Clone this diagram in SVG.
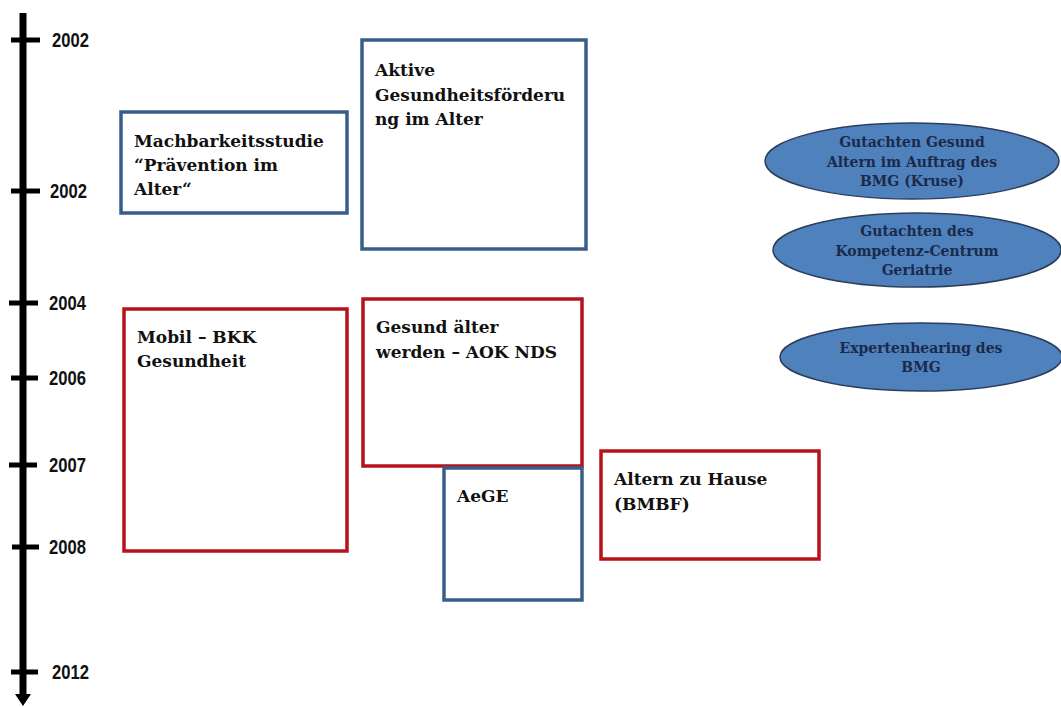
<svg xmlns="http://www.w3.org/2000/svg" width="1061" height="707" viewBox="0 0 1061 707">
<style>
.yr{font-family:"Liberation Sans",Arial,sans-serif;font-weight:bold;font-size:20px;fill:#111}
.bx{fill:#fff;stroke-width:3.5}
.blue{stroke:#385D8A}
.red{stroke:#B5121B}
.bt{font-family:"DejaVu Serif",serif;font-weight:bold;font-size:17px;fill:#111}
.el{fill:#4F81BD;stroke:#2C3E5C;stroke-width:1.5}
.et{font-family:"DejaVu Serif",serif;font-weight:bold;font-size:14px;fill:#1B2A4A;text-anchor:middle}
</style>
<rect width="1061" height="707" fill="#fff"/>
<g id="axis">
<line x1="23" y1="13" x2="23" y2="698" stroke="#000" stroke-width="7"/>
<polygon points="15,694 31,694 23,706" fill="#000"/>
<g stroke="#000" stroke-width="5">
<line x1="11" y1="40" x2="40" y2="40"/>
<line x1="11" y1="191" x2="40" y2="191"/>
<line x1="9" y1="303" x2="38" y2="303"/>
<line x1="11" y1="378" x2="38" y2="378"/>
<line x1="9" y1="465" x2="37" y2="465"/>
<line x1="12" y1="547" x2="39" y2="547"/>
<line x1="11" y1="672" x2="38" y2="672"/>
</g>
<text class="yr" x="52" y="47" textLength="37" lengthAdjust="spacingAndGlyphs">2002</text>
<text class="yr" x="50" y="198" textLength="37" lengthAdjust="spacingAndGlyphs">2002</text>
<text class="yr" x="49" y="310" textLength="37" lengthAdjust="spacingAndGlyphs">2004</text>
<text class="yr" x="49" y="385" textLength="37" lengthAdjust="spacingAndGlyphs">2006</text>
<text class="yr" x="49" y="472" textLength="37" lengthAdjust="spacingAndGlyphs">2007</text>
<text class="yr" x="49" y="554" textLength="37" lengthAdjust="spacingAndGlyphs">2008</text>
<text class="yr" x="52" y="679" textLength="37" lengthAdjust="spacingAndGlyphs">2012</text>
</g>
<g id="node-machbarkeit">
<rect class="bx blue" x="121" y="112" width="226" height="101"/>
<text class="bt" x="134" y="147">Machbarkeitsstudie</text>
<text class="bt" x="134" y="171">“Prävention im</text>
<text class="bt" x="134" y="195">Alter“</text>
</g>
<g id="node-aktive">
<rect class="bx blue" x="362" y="40" width="224" height="209"/>
<text class="bt" x="375" y="76">Aktive</text>
<text class="bt" x="375" y="101">Gesundheitsförderu</text>
<text class="bt" x="375" y="125">ng im Alter</text>
</g>
<g id="node-mobil">
<rect class="bx red" x="124" y="309" width="223" height="242"/>
<text class="bt" x="137" y="343">Mobil – BKK</text>
<text class="bt" x="137" y="367">Gesundheit</text>
</g>
<g id="node-gesund">
<rect class="bx red" x="363" y="299" width="219" height="167"/>
<text class="bt" x="376" y="333">Gesund älter</text>
<text class="bt" x="376" y="358">werden – AOK NDS</text>
</g>
<g id="node-aege">
<rect class="bx blue" x="444" y="468" width="138" height="132"/>
<text class="bt" x="457" y="502">AeGE</text>
</g>
<g id="node-altern">
<rect class="bx red" x="601" y="451" width="218" height="108"/>
<text class="bt" x="614" y="485">Altern zu Hause</text>
<text class="bt" x="614" y="510">(BMBF)</text>
</g>
<g id="node-gutachten-kruse">
<ellipse class="el" cx="912" cy="161" rx="147" ry="38"/>
<text class="et" x="912" y="147">Gutachten Gesund</text>
<text class="et" x="912" y="167">Altern im Auftrag des</text>
<text class="et" x="912" y="186">BMG (Kruse)</text>
</g>
<g id="node-gutachten-kcg">
<ellipse class="el" cx="917" cy="250" rx="144" ry="37"/>
<text class="et" x="917" y="236">Gutachten des</text>
<text class="et" x="917" y="256">Kompetenz-Centrum</text>
<text class="et" x="917" y="275">Geriatrie</text>
</g>
<g id="node-expertenhearing">
<ellipse class="el" cx="921" cy="357" rx="141" ry="34"/>
<text class="et" x="921" y="353">Expertenhearing des</text>
<text class="et" x="921" y="372">BMG</text>
</g>
<g id="connectors"></g>
</svg>
